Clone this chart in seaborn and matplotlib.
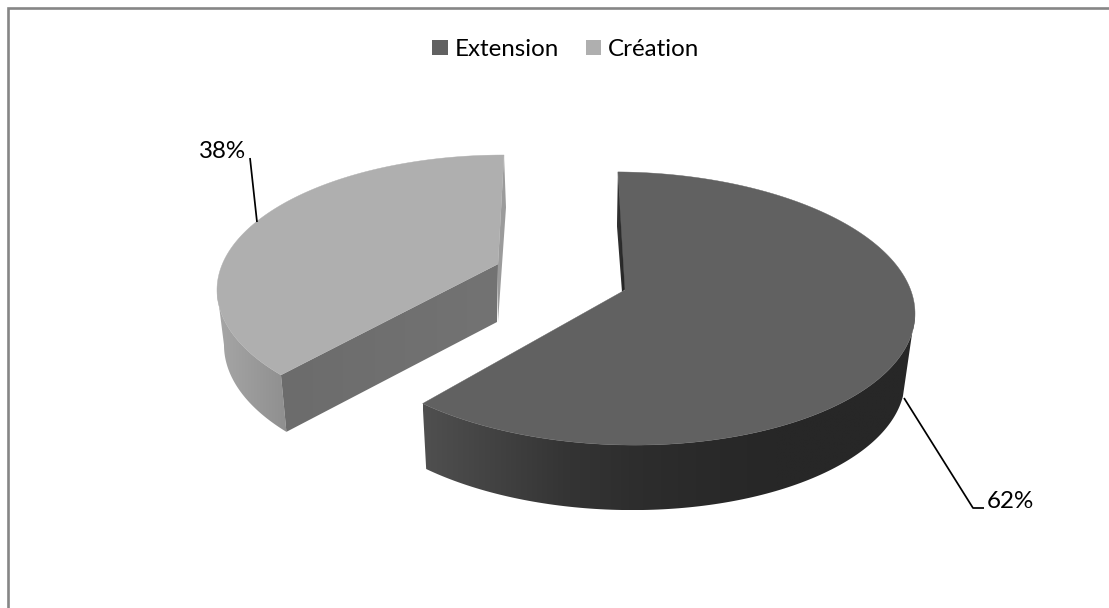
import numpy as np
import pandas as pd
import matplotlib
matplotlib.use("Agg")
import matplotlib.pyplot as plt
from matplotlib.colors import LinearSegmentedColormap
from matplotlib.patches import Patch, Polygon
import seaborn as sns

# Survey shares by project type
categories = ["Extension", "Création"]
shares = [62, 38]
percent_labels = ["62%", "38%"]

df = pd.DataFrame({"categorie": categories, "part": shares})

sns.set_theme(style="white")
plt.rcParams["font.family"] = ["Lato", "DejaVu Sans"]

top_colors = sns.color_palette(["#616161", "#afafaf"])

# Projected 3-D geometry of each exploded slice, in canvas pixels.
# rim / base: centre x, centre y, radius x, radius y, tilt
GEOMETRY = {
    "Extension": dict(
        rim=(624, 308.5, 291, 136.5, 5), base=(622, 375, 283, 135, 5),
        apex=(625, 290), start=-1.2, direction=1, foreshorten=1.008,
        side_rim_from=90, side_base_from=97,
        side_ramp=["#4f4f4f", "#303030", "#272727", "#272727"], side_span=(424, 915),
        cut_ramp=["#333333", "#222222"], cut_bulge=-1.5,
    ),
    "Création": dict(
        rim=(504, 290, 287, 135, 0), base=(504, 345, 280, 138, 0),
        apex=(498, 264), start=360, direction=-1, foreshorten=0.943,
        side_rim_from=270, side_base_from=270,
        side_ramp=["#a6a6a6", "#8e8e8e"], side_span=(217, 290),
        cut_ramp=["#6c6c6c", "#737373"], cut_bulge=2,
    ),
}
CANVAS = (1109, 608)


def ellipse(params, t_deg):
    cx, cy, rx, ry, tilt = params
    t = np.radians(t_deg)
    return np.column_stack([cx + rx * np.sin(t),
                            cy - ry * np.cos(t) + tilt * np.sin(t)])


def gradient_fill(ax, vertices, ramp, span, zorder):
    """Horizontal colour ramp clipped to a polygon."""
    cmap = LinearSegmentedColormap.from_list("ramp", sns.blend_palette(ramp, 8))
    y0, y1 = vertices[:, 1].min(), vertices[:, 1].max()
    x0, x1 = vertices[:, 0].min(), vertices[:, 0].max()
    ramp_pos = np.clip((np.linspace(x0, x1, 256) - span[0]) / (span[1] - span[0]), 0, 1)
    img = ax.imshow(ramp_pos[None, :], cmap=cmap, vmin=0, vmax=1, aspect="auto",
                    extent=(x0, x1, y1, y0), zorder=zorder, interpolation="bilinear")
    clip = Polygon(vertices, closed=True, transform=ax.transData, fc="none", ec="none")
    ax.add_patch(clip)
    img.set_clip_path(clip)


fig = plt.figure(figsize=(CANVAS[0] / 100, CANVAS[1] / 100), dpi=100)
ax = fig.add_axes([0, 0, 1, 1])
ax.set_axis_off()

# One slice at a time: outer wall, cut faces, then the top surface
for (name, share), top in zip(df.itertuples(index=False), top_colors):
    g = GEOMETRY[name]
    sweep = share / 100 * 360 * g["foreshorten"] * g["direction"]
    end = g["start"] + sweep
    apex = np.array(g["apex"], dtype=float)
    rim_start, rim_end = ellipse(g["rim"], np.array([g["start"], end]))
    base_start, base_end = ellipse(g["base"], np.array([g["start"], end]))

    rim_side = ellipse(g["rim"], np.linspace(g["side_rim_from"], end, 120))
    base_side = ellipse(g["base"], np.linspace(end, g["side_base_from"], 120))
    gradient_fill(ax, np.vstack([rim_side, base_side]), g["side_ramp"], g["side_span"], 2)

    if name == "Création":
        # Long cut face turned toward the viewer, thin sliver on the far side
        apex_low = apex + np.array([-1, 58])
        front = np.array([rim_end, apex, apex_low, base_end])
        gradient_fill(ax, front, g["cut_ramp"], (rim_end[0], apex[0]), 3)
        mid = (rim_start + apex) / 2 + np.array([g["cut_bulge"] + 3, -2])
        sliver = [rim_start, mid, apex_low + np.array([1, 0]), apex]
        ax.add_patch(Polygon(sliver, closed=True, fc="#9b9b9b", ec="none", zorder=3))
    else:
        mid = (rim_start + apex) / 2 + np.array([g["cut_bulge"] - 3, -5])
        sliver = [rim_start, mid, apex + np.array([-3, 2]), apex + np.array([2, -2])]
        gradient_fill(ax, np.array(sliver), g["cut_ramp"], (mid[0], apex[0]), 3)

    arc = ellipse(g["rim"], np.linspace(g["start"], end, 240))
    ax.add_patch(Polygon(np.vstack([apex, arc]), closed=True, fc=top, ec=top, lw=0.3, zorder=4))

# Leader lines and value labels
leaders = {"62%": ([904, 973, 984], [398, 508, 508]), "38%": ([250, 257], [158, 222])}
label_anchor = {"62%": (987, 501), "38%": (199, 152)}
for lab in percent_labels:
    xs, ys = leaders[lab]
    ax.plot(xs, ys, color="black", lw=1.25, zorder=5, solid_capstyle="butt")
    ax.text(*label_anchor[lab], lab, fontsize=17.4, color="black", ha="left", va="center", zorder=6)

# Chart frame: only the top and left edges fall on the canvas
ax.plot([7.5, 7.5, CANVAS[0]], [CANVAS[1], 7.5, 7.5], color="#868686", lw=1.9,
        solid_joinstyle="miter", zorder=1)

ax.set_xlim(0, CANVAS[0])
ax.set_ylim(CANVAS[1], 0)

handles = [Patch(fc=c, ec="none", label=n) for n, c in zip(categories, top_colors)]
ax.legend(handles=handles, ncol=2, frameon=False, fontsize=17.4, loc="center",
          bbox_to_anchor=(566 / CANVAS[0], 1 - 49.5 / CANVAS[1]),
          handlelength=0.63, handleheight=0.63, handletextpad=0.3, columnspacing=1.1,
          borderpad=0, labelcolor="black")

fig.savefig("out.png", dpi=100, facecolor="white")
